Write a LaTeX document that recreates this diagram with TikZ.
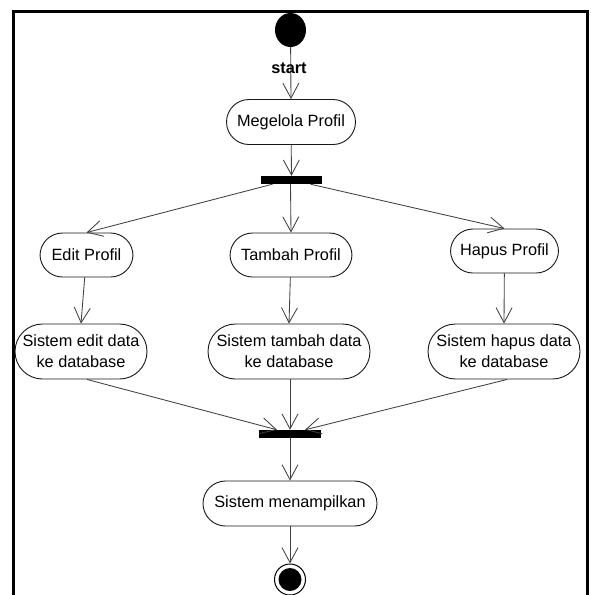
\documentclass[tikz,border=0pt]{standalone}
\usepackage{fontspec}
\setmainfont{Liberation Sans}
\usetikzlibrary{arrows.meta,shapes.geometric}
\tikzset{
  act/.style={draw=black!90, line width=0.9pt, fill=white, align=center, inner sep=0pt,
    font=\fontsize{16.3}{21}\selectfont},
  act1/.style={act, minimum height=45pt, rounded corners=22.5pt},
  act2/.style={act, minimum height=55pt, rounded corners=27.5pt},
  bar/.style={fill=black, draw=none, minimum height=8pt, inner sep=0pt},
  flow/.style={draw=black!75, line width=0.85pt, -{Straight Barb[length=15pt,width=16pt,line width=0.85pt]}},
}
\begin{document}
\begin{tikzpicture}[x=1pt,y=-1pt]
  \useasboundingbox (0,0) rectangle (591,595);
  \begin{scope}
    \clip (0,0) rectangle (591,595);
    % outer frame, open at the bottom
    \draw[line width=3pt] (13.5,600) -- (13.5,11.5) -- (587.5,11.5) -- (587.5,600);

    % initial and final states
    \node[ellipse, fill=black, minimum width=31pt, minimum height=34pt, inner sep=0pt] (start) at (290.5,30) {};
    \node[circle, draw=black, line width=1pt, fill=white, minimum size=31pt, inner sep=0pt] (final) at (290,579.5) {};
    \node[circle, fill=black, minimum size=23pt, inner sep=0pt] (finaldot) at (290,579.5) {};

    % actions
    \node[act1, minimum width=129pt] (kelola) at (291,122) {Megelola Profil};
    \node[bar, minimum width=61pt] (fork) at (291.5,180) {};
    \node[act1, minimum width=93pt, minimum height=44pt] (edit) at (86.5,255) {Edit Profil};
    \node[act1, minimum width=122pt, minimum height=44pt] (tambah) at (291,255) {Tambah Profil};
    \node[act1, minimum width=108pt, minimum height=44pt] (hapus) at (504.5,251) {Hapus Profil};
    \node[act2, minimum width=132pt] (sedit) at (81,351.5) {Sistem edit data\\ke database};
    \node[act2, minimum width=162pt] (stambah) at (289,351.5) {Sistem tambah data\\ke database};
    \node[act2, minimum width=152pt] (shapus) at (504,351.5) {Sistem hapus data\\ke database};
    \node[bar, minimum width=62pt] (join) at (290,434) {};
    \node[act1, minimum width=174pt] (tampil) at (290,503.5) {Sistem menampilkan};
  \end{scope}

  % control flows
  \draw[flow] (start) -- (kelola.north);
  \node[font=\fontsize{16.3}{19}\selectfont\bfseries, inner sep=0pt] (startlbl) at (289,68) {start};
  \draw[flow] (kelola) -- (fork.north);
  \draw[flow] ([xshift=-19pt]fork.south) -- (edit.north);
  \draw[flow] ([xshift=-1pt]fork.south) -- (tambah.north);
  \draw[flow] ([xshift=19pt]fork.south) -- (hapus.north);
  \draw[flow] (edit) -- (sedit.north);
  \draw[flow] (tambah) -- (stambah.north);
  \draw[flow] (hapus) -- (shapus.north);
  \draw[flow] ([xshift=6pt]sedit.south) -- ([xshift=-13pt]join.north);
  \draw[flow] ([xshift=1pt]stambah.south) -- (join.north);
  \draw[flow] ([xshift=3pt]shapus.south) -- ([xshift=15pt]join.north);
  \draw[flow] (join) -- (tampil.north);
  \draw[flow] (tampil) -- (final.north);
\end{tikzpicture}
\end{document}
